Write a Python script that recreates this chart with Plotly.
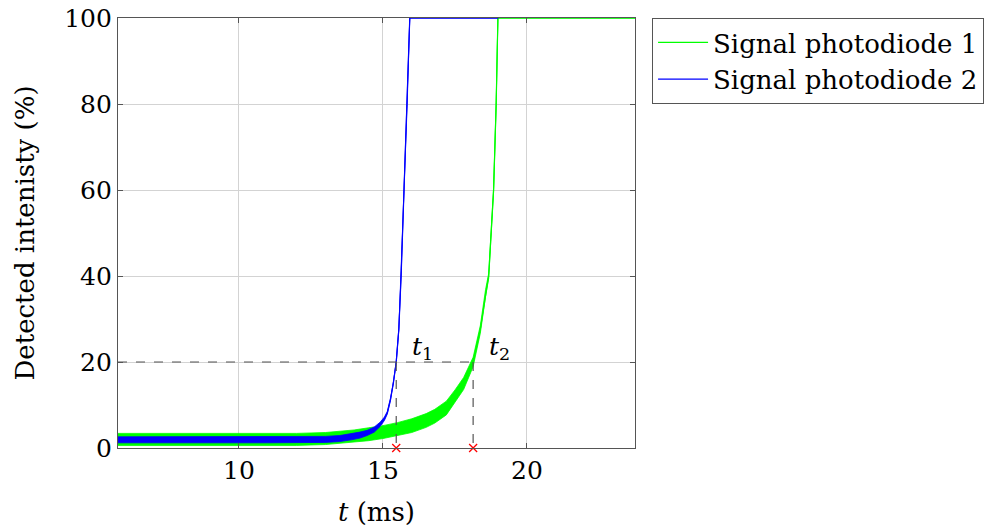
import plotly.graph_objects as go

# Photodiode 1 (green): time in ms, mean level and half-width of the noise band, in %
t_pd1 = [5.8, 7, 8, 9, 10, 11, 12, 13, 13.5, 14, 14.5, 15, 15.5, 16, 16.5, 16.8,
         17.2, 17.5, 17.8, 18.13, 18.38, 18.56, 18.67, 18.84, 18.93, 18.99, 23.75]
y_pd1 = [2.0, 2.0, 2.0, 2.0, 2.0, 2.0, 2.0, 2.2, 2.5, 2.8, 3.2, 3.7, 4.4, 5.2, 6.4, 7.4,
         9.3, 12.0, 15.0, 20.0, 27.6, 36.0, 40.0, 60.0, 80.0, 100.0, 100.0]
n_pd1 = [1.4, 1.4, 1.4, 1.4, 1.4, 1.4, 1.4, 1.4, 1.4, 1.4, 1.5, 1.5, 1.5, 1.6, 1.6, 1.6,
         1.6, 1.5, 1.4, 1.1, 0.9, 0.8, 0.6, 0.5, 0.4, 0.0, 0.0]

# Photodiode 2 (blue)
t_pd2 = [5.8, 7, 8, 9, 10, 11, 12, 13, 13.5, 13.9, 14.2, 14.45, 14.7, 14.9, 15.05,
         15.15, 15.26, 15.36, 15.46, 15.55, 15.63, 15.73, 15.84, 15.93, 19.0]
y_pd2 = [1.9, 1.9, 1.9, 1.9, 1.9, 1.9, 1.9, 2.0, 2.2, 2.6, 3.0, 3.5, 4.3, 5.5, 6.8,
         8.2, 11.3, 15.0, 20.0, 27.6, 40.0, 60.0, 80.0, 100.0, 100.0]
n_pd2 = [0.7, 0.7, 0.7, 0.7, 0.7, 0.7, 0.7, 0.7, 0.7, 0.7, 0.7, 0.6, 0.6, 0.5, 0.4,
         0.3, 0.3, 0.2, 0.2, 0.2, 0.2, 0.2, 0.2, 0.0, 0.0]

# Threshold crossing times
threshold = 20
t_cross = [15.46, 18.13]
cross_labels = ["<i>t</i><sub>1</sub>", "<i>t</i><sub>2</sub>"]

x_range = [5.8, 23.75]
y_range = [0, 100]
x_ticks = [10, 15, 20]
y_ticks = [0, 20, 40, 60, 80, 100]

GREEN = "#00ff00"
BLUE = "#0000ff"
FONT = "DejaVu Serif"


def band(t, y, n):
    hi = [min(v + d, 100) for v, d in zip(y, n)]
    lo = [max(v - d, 0) for v, d in zip(y, n)]
    return t + t[::-1], hi + lo[::-1]


fig = go.Figure()

for t, y, n, col, name in [(t_pd1, y_pd1, n_pd1, GREEN, "Signal photodiode 1"),
                           (t_pd2, y_pd2, n_pd2, BLUE, "Signal photodiode 2")]:
    bx, by = band(t, y, n)
    fig.add_trace(go.Scatter(x=bx, y=by, mode="lines", fill="toself",
                             fillcolor=col, line=dict(color=col, width=0.8),
                             showlegend=False, hoverinfo="skip"))
    fig.add_trace(go.Scatter(x=t, y=y, mode="lines", name=name,
                             line=dict(color=col, width=1.2)))

# Dashed guides from the threshold level down to the time axis
fig.add_trace(go.Scatter(x=[x_range[0], t_cross[1]], y=[threshold, threshold],
                         mode="lines", line=dict(color="#555555", width=1.2, dash="dash"),
                         showlegend=False, hoverinfo="skip"))
for tc in t_cross:
    fig.add_trace(go.Scatter(x=[tc, tc], y=[threshold, 0], mode="lines",
                             line=dict(color="#555555", width=1.2, dash="dash"),
                             showlegend=False, hoverinfo="skip"))

fig.add_trace(go.Scatter(x=t_cross, y=[0, 0], mode="markers", cliponaxis=False,
                         marker=dict(symbol="x-thin", size=8, line=dict(color="red", width=1.3)),
                         showlegend=False, hoverinfo="skip"))

for tc, lab in zip(t_cross, cross_labels):
    fig.add_annotation(x=tc, y=threshold, text=lab, showarrow=False,
                       xanchor="left", yanchor="bottom", xshift=14, yshift=-4,
                       font=dict(family=FONT, size=25, color="black"))

axis_common = dict(showline=True, linecolor="#555555", linewidth=1.2, mirror="ticks",
                   ticks="inside", ticklen=5, tickcolor="#555555", tickwidth=1,
                   showgrid=True, gridcolor="#d3d3d3", gridwidth=1, zeroline=False,
                   tickfont=dict(family=FONT, size=25, color="black"))

fig.update_xaxes(range=x_range, tickvals=x_ticks,
                 title=dict(text="<i>t</i> (ms)", font=dict(family=FONT, size=26, color="black"),
                            standoff=20),
                 **axis_common)
fig.update_yaxes(range=y_range, tickvals=y_ticks,
                 title=dict(text="Detected intenisty (%)",
                            font=dict(family=FONT, size=26, color="black"), standoff=22),
                 **axis_common)

fig.update_layout(
    width=985, height=527,
    margin=dict(l=118, r=350, t=18, b=79, autoexpand=False),
    plot_bgcolor="white", paper_bgcolor="white",
    font=dict(family=FONT, size=25, color="black"),
    legend=dict(x=1.033, y=1.0, xanchor="left", yanchor="top",
                bordercolor="#555555", borderwidth=1, bgcolor="white",
                font=dict(family=FONT, size=26, color="black"),
                tracegroupgap=0, itemwidth=50),
)

fig.write_html("out.html")
